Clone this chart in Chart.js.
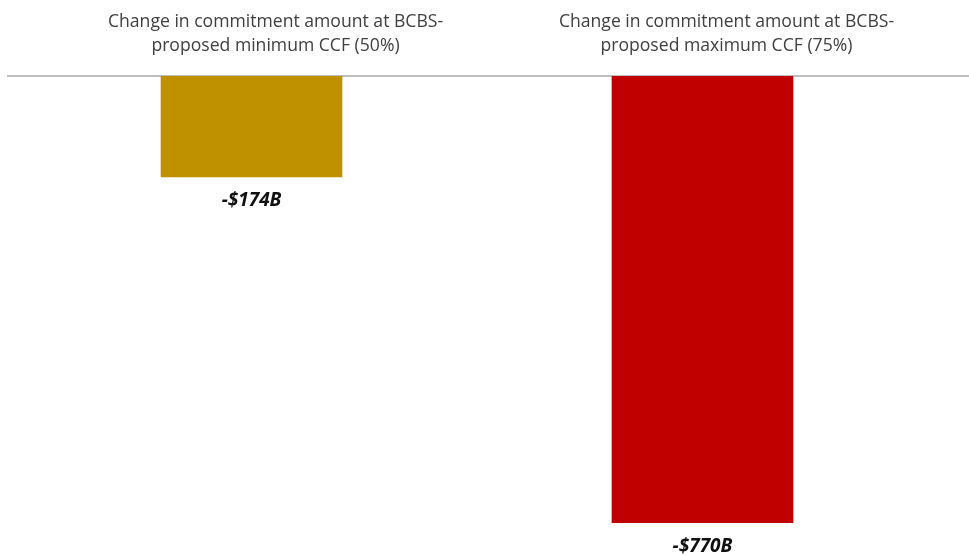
<!DOCTYPE html>
<html>
<head>
<meta charset="utf-8">
<script src="https://cdn.jsdelivr.net/npm/chart.js@4"></script>
<style>
html,body{margin:0;padding:0;background:#fff;}
#wrap{width:969px;height:555px;position:relative;}
</style>
</head>
<body>
<div id="wrap"><canvas id="c"></canvas></div>
<script>
const categories = [
  ["Change in commitment amount at BCBS-", "proposed minimum CCF (50%)"],
  ["Change in commitment amount at BCBS-", "proposed maximum CCF (75%)"]
];
const values = [-174, -770];
const valueLabels = ["-$174B", "-$770B"];
const barColors = ["#BF9000", "#C00000"];

const dataLabelPlugin = {
  id: 'dataLabels',
  afterDatasetsDraw(chart) {
    const ctx = chart.ctx;
    const meta = chart.getDatasetMeta(0);
    ctx.save();
    ctx.font = 'italic bold 19px "Open Sans", sans-serif';
    ctx.fillStyle = '#111111';
    ctx.textAlign = 'center';
    ctx.textBaseline = 'middle';
    meta.data.forEach((bar, i) => {
      ctx.fillText(valueLabels[i], bar.x, bar.y + 24);
    });
    ctx.restore();
  }
};

new Chart(document.getElementById('c'), {
  type: 'bar',
  data: {
    datasets: [{
      data: values.map((v, i) => ({x: i, y: v})),
      backgroundColor: barColors,
      barThickness: 181,
      borderWidth: 0
    }]
  },
  options: {
    responsive: true,
    maintainAspectRatio: false,
    animation: false,
    layout: {padding: {left: 8, right: 0, top: 0, bottom: 15}},
    plugins: {legend: {display: false}, tooltip: {enabled: false}},
    scales: {
      x: {
        type: 'linear',
        position: 'top',
        offset: false,
        bounds: 'data',
        min: -0.54,
        max: 1.591,
        grid: {display: false},
        border: {display: true, color: '#bfbfbf', width: 2},
        afterBuildTicks(scale) { scale.ticks = categories.map((c, i) => ({value: i})); },
        ticks: {
          autoSkip: false,
          maxRotation: 0,
          labelOffset: 24,
          padding: 10,
          color: '#404040',
          font: {family: '"Open Sans", sans-serif', size: 17.6, lineHeight: 1.364},
          callback: (v) => categories[v]
        }
      },
      y: {
        display: false,
        min: -800,
        max: 0
      }
    }
  },
  plugins: [dataLabelPlugin]
});
</script>
</body>
</html>
